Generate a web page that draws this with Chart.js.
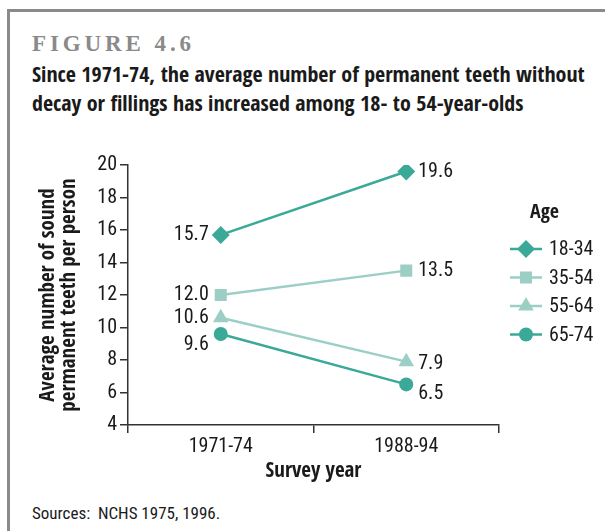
<!DOCTYPE html>
<html>
<head>
<meta charset="utf-8">
<script src="https://cdn.jsdelivr.net/npm/chart.js@4.4.0/dist/chart.umd.min.js"></script>
<style>
  body { margin: 0; background: #fff; width: 605px; height: 531px; overflow: hidden; position: relative;
         font-family: "Roboto Condensed", sans-serif; color: #1a1a1a; }
  #frame { position: absolute; left: 7px; top: 9px; width: 640px; height: 560px;
           border-left: 3px solid #8a8a8a; border-top: 3px solid #8a8a8a; }
  #fig { position: absolute; left: 32px; top: 31px; font: bold 23px "Liberation Serif", serif;
         color: #8a8a8a; letter-spacing: 3.9px; }
  #title { position: absolute; left: 32px; top: 59px; font-family: "Open Sans Condensed"; font-weight: bold;
           font-size: 22px; line-height: 29px; white-space: nowrap; }
  #src { position: absolute; left: 32px; top: 503px; font-size: 17px; }
  #myChart { position: absolute; left: 0; top: 0; }
</style>
</head>
<body>
<div id="frame"></div>
<div id="fig">FIGURE 4.6</div>
<div id="title">Since 1971-74, the average number of permanent teeth without<br>decay or fillings has increased among 18- to 54-year-olds</div>
<div id="src">Sources:&nbsp; NCHS 1975, 1996.</div>
<canvas id="myChart" width="605" height="531"></canvas>
<script>
// data
let years = ["1971-74", "1988-94"]
let ageGroups = ["18-34", "35-54", "55-64", "65-74"]
let age18to34 = [15.7, 19.6]
let age35to54 = [12.0, 13.5]
let age55to64 = [10.6, 7.9]
let age65to74 = [9.6, 6.5]
let yMin = 4, yMax = 20, yStep = 2

let narrow = "'Roboto Condensed', sans-serif"
let narrowBold = "'Open Sans Condensed', 'Roboto Condensed', sans-serif"
let dark = "#3aa997"
let light = "#9bcfc5"

// where each value label sits next to its point: [side, extra dy]
let labelPlace = [
  [["left", 0], ["right", 0]],
  [["left", 0], ["right", 0]],
  [["left", 0], ["right", 2]],
  [["left", 11], ["right", 10]]
]

let valueLabels = {
  id: "valueLabels",
  afterDatasetsDraw(chart) {
    let c = chart.ctx
    c.save()
    c.font = "20px " + narrow
    c.fillStyle = "#1a1a1a"
    c.textBaseline = "middle"
    chart.data.datasets.forEach((ds, i) => {
      chart.getDatasetMeta(i).data.forEach((pt, j) => {
        let [side, dy] = labelPlace[i][j]
        c.textAlign = side == "left" ? "right" : "left"
        let dx = side == "left" ? -12 : 12
        c.fillText(ds.data[j].toFixed(1), pt.x + dx, pt.y + dy)
      })
    })
    c.restore()
  }
}

let sideLegend = {
  id: "sideLegend",
  afterDraw(chart) {
    let c = chart.ctx
    let x0 = chart.chartArea.right + 11
    c.save()
    c.font = "bold 20px " + narrowBold
    c.fillStyle = "#1a1a1a"
    c.textBaseline = "middle"
    c.fillText("Age", x0 + 20, 213)
    c.font = "20px " + narrow
    chart.data.datasets.forEach((ds, i) => {
      let y = 249 + i * 28.5
      c.strokeStyle = ds.borderColor
      c.lineWidth = ds.borderWidth
      c.beginPath(); c.moveTo(x0, y); c.lineTo(x0 + 32, y); c.stroke()
      c.fillStyle = ds.pointBackgroundColor
      Chart.helpers.drawPoint(c, { pointStyle: ds.pointStyle, radius: ds.pointRadius, rotation: 0, borderWidth: 0 }, x0 + 16, y)
      c.fillStyle = "#1a1a1a"
      c.fillText(ds.label, x0 + 39, y + 1)
    })
    c.restore()
  }
}

function series(label, data, color, style, radius) {
  return {
    label: label, data: data, borderColor: color, borderWidth: 2.5,
    pointStyle: style, pointRadius: radius, pointHoverRadius: radius,
    pointBackgroundColor: color, pointBorderColor: color, pointBorderWidth: 0,
    tension: 0
  }
}

let ctx = document.querySelector("#myChart")
let graphData = {
  type: "line",
  data: {
    labels: years,
    datasets: [
      series(ageGroups[0], age18to34, dark, "rectRot", 9),
      series(ageGroups[1], age35to54, light, "rect", 8.5),
      series(ageGroups[2], age55to64, light, "triangle", 9),
      series(ageGroups[3], age65to74, dark, "circle", 7)
    ]
  },
  options: {
    responsive: false,
    animation: false,
    layout: { padding: { left: 34, top: 165, right: 106, bottom: 42 } },
    plugins: { legend: { display: false }, tooltip: { enabled: false } },
    scales: {
      x: {
        offset: true,
        grid: { offset: true, drawOnChartArea: false, tickLength: 8, color: "#333", lineWidth: 1.5 },
        border: { color: "#333", width: 1.5 },
        ticks: { color: "#1a1a1a", font: { family: narrow, size: 20 }, padding: 2 },
        title: { display: true, text: "Survey year", color: "#1a1a1a", padding: { top: 0, bottom: 6 },
                 font: { family: narrowBold, size: 21, weight: "bold", lineHeight: 1.1 } },
        afterFit(s) { s.height = 64; s.paddingLeft = 0; s.paddingRight = 0 }
      },
      y: {
        min: yMin, max: yMax,
        grid: { drawOnChartArea: false, tickLength: 8, color: "#333", lineWidth: 1.5 },
        border: { color: "#333", width: 1.5 },
        ticks: { stepSize: yStep, color: "#1a1a1a", font: { family: narrow, size: 20 }, padding: 3 },
        title: { display: true, text: ["Average number of sound", "permanent teeth per person"], color: "#1a1a1a",
                 font: { family: narrowBold, size: 21, weight: "bold", lineHeight: 1.0 } },
        afterFit(s) { s.width = 94; s.paddingTop = 0; s.paddingBottom = 0 }
      }
    }
  },
  plugins: [valueLabels, sideLegend]
}
let myChart = new Chart(ctx, graphData)
</script>
</body>
</html>
